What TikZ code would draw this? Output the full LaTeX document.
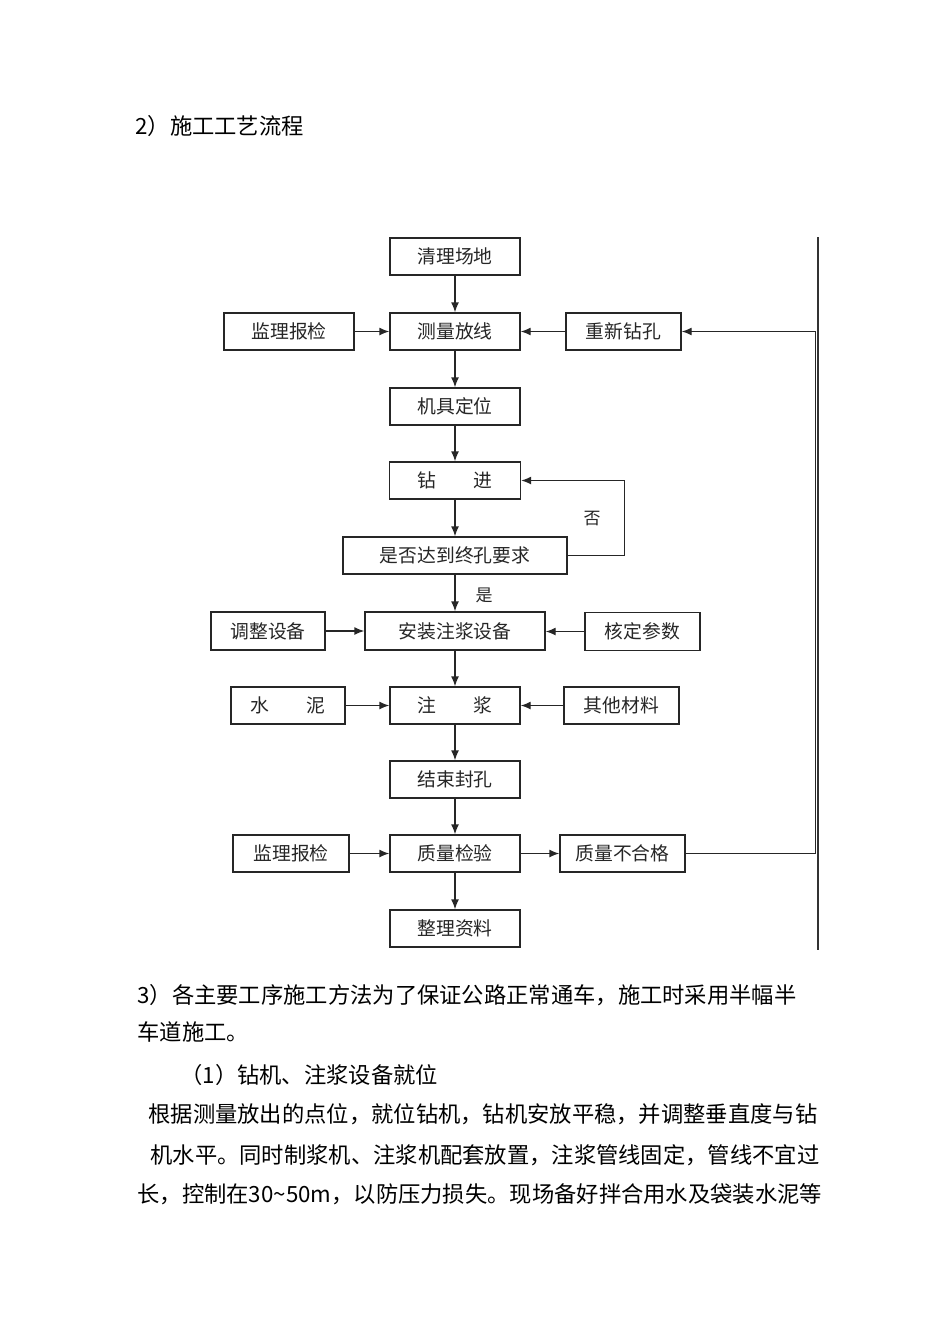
\documentclass[tikz,border=0pt]{standalone}
\usepackage{fontspec}
\setmainfont{Noto Sans CJK SC}
\usetikzlibrary{arrows.meta}
\begin{document}
\begin{tikzpicture}[x=0.5pt,y=-0.5pt,
  box/.style={draw=black!85, line width=0.7pt, minimum height=18.5pt, inner sep=0pt,
    font=\fontsize{9.4pt}{11pt}\selectfont, text=black!85, fill=white},
  arr/.style={-{Latex[length=5pt,width=4pt]}, line width=0.7pt, draw=black!85},
  ln/.style={line width=0.7pt, draw=black!85},
  body/.style={anchor=west, inner sep=0pt, font=\fontsize{11.15pt}{13pt}\selectfont},
  lab/.style={inner sep=0pt, font=\fontsize{8.5pt}{10pt}\selectfont, text=black!85}]
\useasboundingbox (0,0) rectangle (950,1344);
\fill[white] (0,0) rectangle (950,1344);

% title
\node[body] (title) at (135,126) {2）施工工艺流程};

% flow boxes
\node[box, minimum width=65pt] (qlcd) at (455,256.5) {清理场地};
\node[box, minimum width=65pt] (jlbja) at (289,331.5) {监理报检};
\node[box, minimum width=65pt] (clfx) at (455,331.5) {测量放线};
\node[box, minimum width=57.5pt] (cxzk) at (623.5,331.5) {重新钻孔};
\node[box, minimum width=65pt] (jjdw) at (455,406.5) {机具定位};
\node[box, minimum width=65.5pt] (zjin) at (455,480.5) {钻\hspace{2em}进};
\node[box, minimum width=112pt] (sfdd) at (455,555.5) {是否达到终孔要求};
\node[box, minimum width=57pt, minimum height=19pt] (tzsb) at (268,631) {调整设备};
\node[box, minimum width=90pt, minimum height=19pt] (azsb) at (455,631) {安装注浆设备};
\node[box, minimum width=57.5pt, minimum height=19pt] (hdcs) at (642.5,631.5) {核定参数};
\node[box, minimum width=57pt] (sn) at (288,705.5) {水\hspace{2em}泥};
\node[box, minimum width=65pt] (zjiang) at (455,705.5) {注\hspace{2em}浆};
\node[box, minimum width=57.5pt] (qtcl) at (621.5,705.5) {其他材料};
\node[box, minimum width=65pt] (jsfk) at (455,779.5) {结束封孔};
\node[box, minimum width=58pt] (jlbjb) at (291,853.5) {监理报检};
\node[box, minimum width=65pt] (zljy) at (455,853.5) {质量检验};
\node[box, minimum width=62.5pt] (zlbhg) at (622.5,853.5) {质量不合格};
\node[box, minimum width=65pt] (zlzl) at (455,928.5) {整理资料};

% vertical flow
\draw[arr] (qlcd) -- (clfx);
\draw[arr] (clfx) -- (jjdw);
\draw[arr] (jjdw) -- (zjin);
\draw[arr] (zjin) -- (sfdd);
\draw[arr] (sfdd) -- (azsb);
\draw[arr] (azsb) -- (zjiang);
\draw[arr] (zjiang) -- (jsfk);
\draw[arr] (jsfk) -- (zljy);
\draw[arr] (zljy) -- (zlzl);

% side inputs
\draw[arr] (jlbja) -- (clfx);
\draw[arr] (cxzk) -- (clfx);
\draw[arr] (tzsb) -- (azsb);
\draw[arr] (hdcs.west) -- (azsb.east |- hdcs.west);
\draw[arr] (sn) -- (zjiang);
\draw[arr] (qtcl) -- (zjiang);
\draw[arr] (jlbjb) -- (zljy);
\draw[arr] (zljy) -- (zlbhg);

% loops
\draw[arr] (sfdd.east) -- ++(57,0) |- (zjin.east);
\draw[arr] (zlbhg.east) -- ++(130,0) |- (cxzk.east);
\node[lab] (fou) at (592,519) {否};
\node[lab] (shi) at (484,595) {是};

% page rule
\draw[line width=0.6pt, black!80] (818,237) -- (818,950);

% body text
\node[body] (l1) at (137,995) {3）各主要工序施工方法为了保证公路正常通车，施工时采用半幅半};
\node[body] (l2) at (137,1032) {车道施工。};
\node[body] (l3) at (180,1075) {（1）钻机、注浆设备就位};
\node[body] (l4) at (148,1114) {根据测量放出的点位，就位钻机，钻机安放平稳，并调整垂直度与钻};
\node[body] (l5) at (150,1155) {机水平。同时制浆机、注浆机配套放置，注浆管线固定，管线不宜过};
\node[body] (l6) at (137,1194) {长，控制在30\textasciitilde{}50m，以防压力损失。现场备好拌合用水及袋装水泥等};
\end{tikzpicture}
\end{document}
